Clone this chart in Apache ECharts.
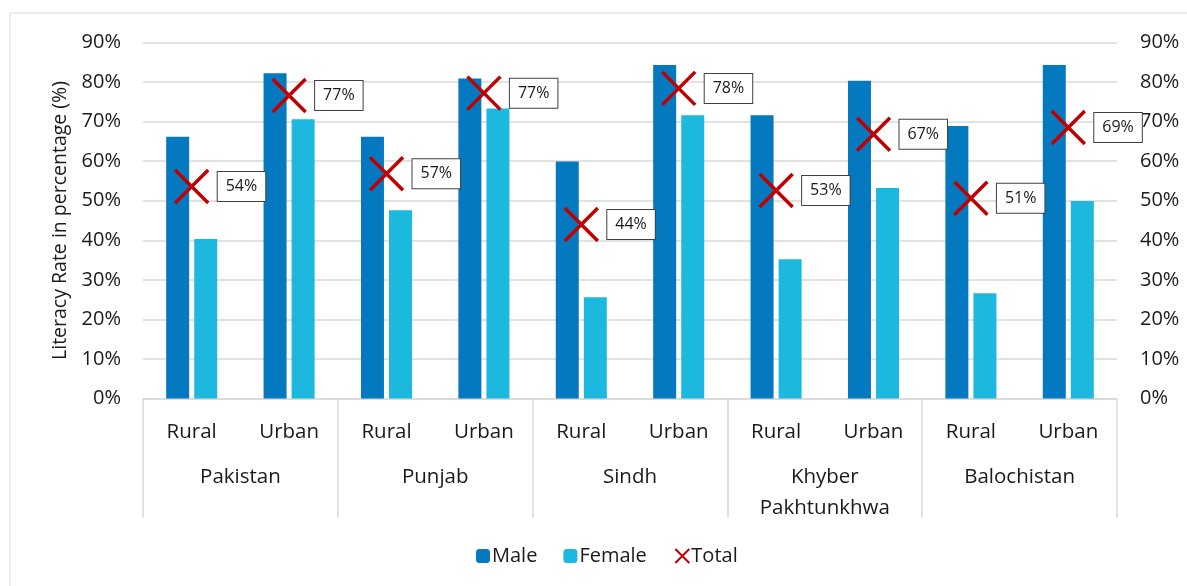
<!DOCTYPE html>
<html>
<head>
<meta charset="utf-8">
<script src="https://cdn.jsdelivr.net/npm/echarts@6/dist/echarts.min.js"></script>
<style>
  html, body { margin: 0; padding: 0; background: #fff; }
  #main { width: 1187px; height: 586px; }
</style>
</head>
<body>
<div id="main"></div>
<script>
// data (percent)
var areas = ["Rural", "Urban", "Rural", "Urban", "Rural", "Urban", "Rural", "Urban", "Rural", "Urban"];
var regions = ["Pakistan", "Punjab", "Sindh", "Khyber\nPakhtunkhwa", "Balochistan"];
var male = [66.2, 82.2, 66.2, 80.9, 59.9, 84.3, 71.6, 80.3, 68.9, 84.3];
var female = [40.3, 70.6, 47.6, 73.3, 25.6, 71.6, 35.2, 53.2, 26.6, 49.9];
var total = [53.6, 76.6, 56.8, 77.2, 44.0, 78.4, 52.6, 66.8, 50.6, 68.5];

var font = "Open Sans";
var gridColor = "#d9d9d9";
var textColor = "#1a1a1a";

var myChart = echarts.init(document.getElementById("main"));

function pct(v) { return v + "%"; }

myChart.setOption({
  animation: false,
  textStyle: { fontFamily: font },
  graphic: [{
    type: "rect",
    shape: { x: 10, y: 13, width: 1200, height: 600 },
    style: { fill: "none", stroke: gridColor, lineWidth: 1 },
    silent: true
  }],
  grid: { left: 143, right: 70, top: 42.5, bottom: 187.5 },
  legend: {
    left: 471,
    top: 541,
    itemWidth: 14,
    itemHeight: 14,
    itemGap: 26,
    textStyle: { fontFamily: font, fontSize: 20, color: textColor, padding: [0, 0, 0, -3] },
    data: ["Male", "Female", "Total"]
  },
  xAxis: [
    {
      type: "category",
      data: areas,
      axisLine: { lineStyle: { color: gridColor, width: 1.5 } },
      axisTick: { show: false },
      axisLabel: { fontFamily: font, fontSize: 20.5, color: textColor, margin: 23 }
    },
    {
      type: "category",
      data: regions,
      position: "bottom",
      axisLine: { show: false },
      axisTick: { show: true, length: 119, lineStyle: { color: gridColor, width: 1.5 } },
      axisLabel: { fontFamily: font, fontSize: 20.5, color: textColor, margin: 63, lineHeight: 31 }
    }
  ],
  yAxis: [
    {
      type: "value",
      min: 0,
      max: 90,
      interval: 10,
      name: "Literacy Rate in percentage (%)",
      nameLocation: "middle",
      nameGap: 66,
      nameTextStyle: { fontFamily: font, fontSize: 19.5, color: textColor },
      axisLabel: { fontFamily: font, fontSize: 20, color: textColor, margin: 22, formatter: pct },
      splitLine: { lineStyle: { color: gridColor, width: 1.5 } }
    },
    {
      type: "value",
      position: "right",
      min: 0,
      max: 90,
      interval: 10,
      axisLabel: { fontFamily: font, fontSize: 20, color: textColor, margin: 23, formatter: pct },
      splitLine: { show: false }
    }
  ],
  series: [
    {
      name: "Male",
      type: "bar",
      data: male,
      barWidth: 23,
      barGap: "22%",
      itemStyle: { color: "#0479C0" }
    },
    {
      name: "Female",
      type: "bar",
      data: female,
      barWidth: 23,
      itemStyle: { color: "#1DB8DE" }
    },
    {
      name: "Total",
      type: "scatter",
      data: total,
      symbol: "path://M0,0L10,10M10,0L0,10",
      symbolSize: 33,
      itemStyle: { color: "none", borderColor: "#C00000", borderWidth: 3.5, opacity: 1 },
      z: 5,
      label: {
        show: true,
        position: "right",
        distance: 7,
        formatter: function (p) { return Math.round(p.value) + "%"; },
        fontFamily: font,
        fontSize: 16,
        color: textColor,
        backgroundColor: "#fff",
        borderColor: "#404040",
        borderWidth: 1,
        padding: [5, 8],
        lineHeight: 19
      }
    }
  ]
});
</script>
</body>
</html>
